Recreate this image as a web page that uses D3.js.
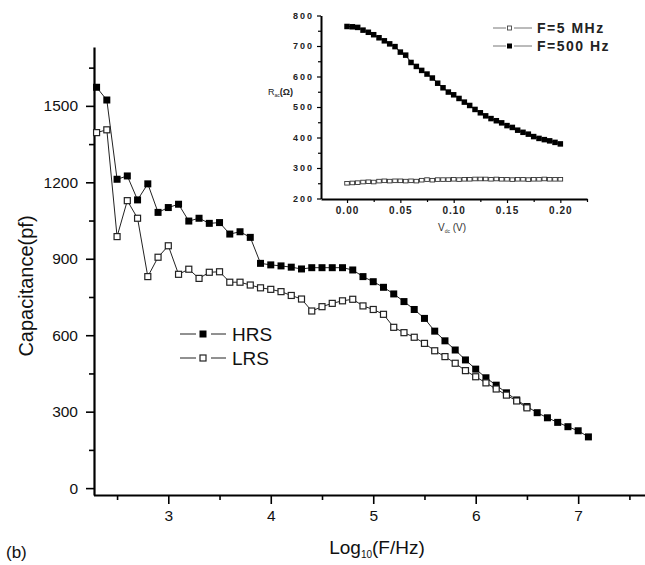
<!DOCTYPE html>
<html><head><meta charset="utf-8">
<script src="https://cdn.jsdelivr.net/npm/d3@7"></script>
<style>
html,body{margin:0;padding:0;background:#fff;}
svg{display:block;font-family:"Liberation Sans",Arial,sans-serif;}
</style></head>
<body>
<svg id="chart" width="645" height="565"></svg>
<script>
// ---- Main chart data: log10 frequency and capacitance (pF) ----
const logFreqHRS = [2.3,2.4,2.5,2.6,2.7,2.8,2.9,3.0,3.1,3.2,3.3,3.4,3.5,3.6,3.7,3.8,3.9,4.0,4.1,4.2,4.3,4.4,4.5,4.6,4.7,4.8,4.9,5.0,5.1,5.2,5.3,5.4,5.5,5.6,5.7,5.8,5.9,6.0,6.1,6.2,6.3,6.4,6.5,6.6,6.7,6.8,6.9,7.0,7.1];
const capHRS = [1573,1523,1212,1225,1131,1194,1082,1101,1114,1048,1059,1039,1042,997,1006,984,882,876,872,867,860,865,865,865,865,856,830,810,788,762,732,701,666,616,578,542,503,467,433,404,374,346,320,296,276,258,241,225,201];
const logFreqLRS = [2.3,2.4,2.5,2.6,2.7,2.8,2.9,3.0,3.1,3.2,3.3,3.4,3.5,3.6,3.7,3.8,3.9,4.0,4.1,4.2,4.3,4.4,4.5,4.6,4.7,4.8,4.9,5.0,5.1,5.2,5.3,5.4,5.5,5.6,5.7,5.8,5.9,6.0,6.1,6.2,6.3,6.4,6.5];
const capLRS = [1395,1406,987,1128,1059,830,906,951,839,859,823,847,849,808,808,797,786,780,771,756,742,695,712,725,735,741,715,701,682,631,610,592,568,539,516,490,461,437,413,389,365,342,315];
const xTicksMain = [3,4,5,6,7];
const xMinorMain = [2.5,3.5,4.5,5.5,6.5,7.5];
const yTicksMain = [0,300,600,900,1200,1500];
const yMinorMain = [150,450,750,1050,1350,1650];

// ---- Inset data: DC voltage (V) and resistance (Ohm) ----
const vdc = [0.000,0.005,0.010,0.015,0.020,0.025,0.030,0.035,0.040,0.045,0.050,0.055,0.060,0.065,0.070,0.075,0.080,0.085,0.090,0.095,0.100,0.105,0.110,0.115,0.120,0.125,0.130,0.135,0.140,0.145,0.150,0.155,0.160,0.165,0.170,0.175,0.180,0.185,0.190,0.195,0.200];
const r500Hz = [764,763,761,752,745,737,727,717,707,698,680,670,646,633,620,608,595,578,563,549,540,528,516,505,492,481,471,462,455,448,439,433,424,417,411,403,397,393,389,384,379];
const r5MHz = [250,251,252,254,255,254,257,258,257,258,258,257,258,257,260,262,260,262,262,262,263,262,263,263,264,264,264,263,264,263,263,262,263,263,262,263,263,264,263,263,263];
const xTicksInset = [0,0.05,0.10,0.15,0.20];
const xMinorInset = [0.025,0.075,0.125,0.175,0.225];
const yTicksInset = [200,300,400,500,600,700,800];
const yMinorInset = [250,350,450,550,650,750];

const svg = d3.select("#chart");

// ---------- Main scales ----------
const x = d3.scaleLinear().domain([2.27,7.66]).range([93.5,645.8]);
const y = d3.scaleLinear().domain([-27,1731]).range([495,47]);

// Axes
const gx = svg.append("g").attr("transform","translate(0,495)");
gx.call(d3.axisBottom(x).tickValues(xTicksMain).tickSize(9).tickSizeOuter(0).tickPadding(6).tickFormat(d3.format("d")));
const gxm = svg.append("g").attr("transform","translate(0,495)");
gxm.call(d3.axisBottom(x).tickValues(xMinorMain).tickSize(5).tickSizeOuter(0).tickFormat(""));
gxm.select(".domain").remove();
const gy = svg.append("g").attr("transform","translate(94,0)");
gy.call(d3.axisLeft(y).tickValues(yTicksMain).tickSize(8).tickSizeOuter(0).tickPadding(8).tickFormat(d3.format("d")));
const gym = svg.append("g").attr("transform","translate(94,0)");
gym.call(d3.axisLeft(y).tickValues(yMinorMain).tickSize(5).tickSizeOuter(0).tickFormat(""));
gym.select(".domain").remove();

svg.selectAll("g .domain").attr("stroke","#000").attr("stroke-width",2.2);
[gx,gxm,gy,gym].forEach(g=>g.selectAll(".tick line").attr("stroke","#000").attr("stroke-width",1.6));
[gx,gy].forEach(g=>g.selectAll(".tick text").attr("fill","#111").style("font-size","15.5px").style("font-family","'Liberation Sans',Arial,sans-serif"));

// Axis titles
svg.append("text").attr("transform","translate(33,286) rotate(-90)").attr("text-anchor","middle")
  .style("font-size","20px").attr("fill","#111").text("Capacitance(pf)");
const xt = svg.append("text").attr("x",377).attr("y",554).attr("text-anchor","middle").style("font-size","19px").attr("fill","#111");
xt.append("tspan").text("Log");
xt.append("tspan").attr("dy",4).style("font-size","10px").text("10");
xt.append("tspan").attr("dy",-4).text("(F/Hz)");
svg.append("text").attr("x",6).attr("y",558).style("font-size","17px").attr("fill","#111").text("(b)");

// Lines & markers
const lineMain = d3.line().x(d=>x(d[0])).y(d=>y(d[1]));
const hrs = logFreqHRS.map((f,i)=>[f,capHRS[i]]);
const lrs = logFreqLRS.map((f,i)=>[f,capLRS[i]]);
const ms = 7;
svg.append("path").datum(hrs).attr("d",lineMain).attr("fill","none").attr("stroke","#222").attr("stroke-width",1);
svg.append("path").datum(lrs).attr("d",lineMain).attr("fill","none").attr("stroke","#222").attr("stroke-width",1);
svg.append("g").selectAll("rect").data(hrs).join("rect")
  .attr("x",d=>x(d[0])-ms/2).attr("y",d=>y(d[1])-ms/2).attr("width",ms).attr("height",ms).attr("fill","#000");
svg.append("g").selectAll("rect").data(lrs).join("rect")
  .attr("x",d=>x(d[0])-ms/2+0.5).attr("y",d=>y(d[1])-ms/2+0.5).attr("width",ms-1).attr("height",ms-1)
  .attr("fill","#fff").attr("stroke","#222").attr("stroke-width",1.2);

// Main legend
const leg = svg.append("g");
[[334,"HRS",true],[358,"LRS",false]].forEach(([ly,lab,filled])=>{
  leg.append("line").attr("x1",180).attr("x2",196).attr("y1",ly).attr("y2",ly).attr("stroke","#222").attr("stroke-width",1);
  leg.append("line").attr("x1",211).attr("x2",226).attr("y1",ly).attr("y2",ly).attr("stroke","#222").attr("stroke-width",1);
  if(filled) leg.append("rect").attr("x",203-ms/2).attr("y",ly-ms/2).attr("width",ms).attr("height",ms).attr("fill","#000");
  else leg.append("rect").attr("x",203-ms/2+0.5).attr("y",ly-ms/2+0.5).attr("width",ms-1).attr("height",ms-1).attr("fill","#fff").attr("stroke","#222").attr("stroke-width",1.2);
  leg.append("text").attr("x",232).attr("y",ly+7).style("font-size","19px").attr("fill","#111").text(lab);
});

// ---------- Inset ----------
const xi = d3.scaleLinear().domain([-0.0244,0.225]).range([321,587]);
const yi = d3.scaleLinear().domain([200,800]).range([198.5,15.5]);
const ix = svg.append("g").attr("transform","translate(0,199)");
ix.call(d3.axisBottom(xi).tickValues(xTicksInset).tickSize(4).tickSizeOuter(0).tickPadding(4).tickFormat(d3.format(".2f")));
const ixm = svg.append("g").attr("transform","translate(0,199)");
ixm.call(d3.axisBottom(xi).tickValues(xMinorInset).tickSize(3).tickSizeOuter(0).tickFormat(""));
ixm.select(".domain").remove();
const iy = svg.append("g").attr("transform","translate(321,0)");
iy.call(d3.axisLeft(yi).tickValues(yTicksInset).tickSize(4).tickSizeOuter(0).tickPadding(3).tickFormat(d3.format("d")));
const iym = svg.append("g").attr("transform","translate(321,0)");
iym.call(d3.axisLeft(yi).tickValues(yMinorInset).tickSize(3).tickSizeOuter(0).tickFormat(""));
iym.select(".domain").remove();
[ix,iy].forEach(g=>g.select(".domain").attr("stroke","#000").attr("stroke-width",2));
[ix,ixm,iy,iym].forEach(g=>g.selectAll(".tick line").attr("stroke","#000").attr("stroke-width",1.2));
ix.selectAll(".tick text").attr("fill","#222").style("font-size","10px").style("font-weight","bold").style("letter-spacing","1px");
iy.selectAll(".tick text").attr("fill","#222").style("font-size","9px").style("font-weight","bold").style("letter-spacing","2px");

// Inset axis titles
const rl = svg.append("text").attr("x",268).attr("y",95).style("font-size","9px").attr("fill","#222");
rl.append("tspan").text("R");
rl.append("tspan").attr("dy",2).style("font-size","5px").text("ac");
rl.append("tspan").attr("dy",-2).style("font-weight","bold").text("(Ω)");
const vl = svg.append("text").attr("x",452).attr("y",231).attr("text-anchor","middle").style("font-size","10px").attr("fill","#333");
vl.append("tspan").text("V");
vl.append("tspan").attr("dy",2).style("font-size","5px").text("dc");
vl.append("tspan").attr("dy",-2).text(" (V)");

// Inset series
const lineIn = d3.line().x(d=>xi(d[0])).y(d=>yi(d[1]));
const s500 = vdc.map((v,i)=>[v,r500Hz[i]]);
const s5M = vdc.map((v,i)=>[v,r5MHz[i]]);
svg.append("path").datum(s500).attr("d",lineIn).attr("fill","none").attr("stroke","#000").attr("stroke-width",1);
svg.append("path").datum(s5M).attr("d",lineIn).attr("fill","none").attr("stroke","#444").attr("stroke-width",0.8);
const im = 5.5;
svg.append("g").selectAll("rect").data(s500).join("rect")
  .attr("x",d=>xi(d[0])-im/2).attr("y",d=>yi(d[1])-im/2).attr("width",im).attr("height",im).attr("fill","#000");
svg.append("g").selectAll("rect").data(s5M).join("rect")
  .attr("x",d=>xi(d[0])-2.3).attr("y",d=>yi(d[1])-1.8).attr("width",4.6).attr("height",3.6)
  .attr("fill","#fff").attr("stroke","#333").attr("stroke-width",0.9);

// Inset legend
const il = svg.append("g");
[[28,"F=5 MHz",false],[46,"F=500 Hz",true]].forEach(([ly,lab,filled])=>{
  il.append("line").attr("x1",493).attr("x2",506).attr("y1",ly).attr("y2",ly).attr("stroke","#777").attr("stroke-width",1);
  il.append("line").attr("x1",514).attr("x2",532).attr("y1",ly).attr("y2",ly).attr("stroke","#777").attr("stroke-width",1);
  if(filled) il.append("rect").attr("x",507).attr("y",ly-2.5).attr("width",5).attr("height",5).attr("fill","#000");
  else il.append("rect").attr("x",507.5).attr("y",ly-2).attr("width",4).attr("height",4).attr("fill","#fff").attr("stroke","#444").attr("stroke-width",0.9);
  il.append("text").attr("x",537).attr("y",ly+5).style("font-size","14px").style("font-weight","bold").style("letter-spacing","1.5px").attr("fill","#222").text(lab);
});
</script>
</body></html>
